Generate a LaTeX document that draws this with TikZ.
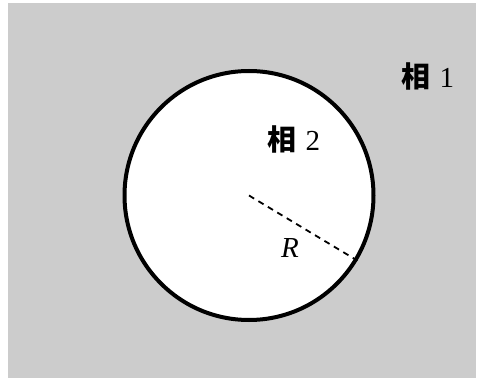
\documentclass[tikz,border=0pt]{standalone}
\usepackage{fontspec}
\setmainfont{Liberation Serif}
\newfontfamily\cjk{Noto Sans CJK SC}
\tikzset{
  phase/.style={font=\fontsize{29}{32}\selectfont, inner sep=0pt},
  bubble/.style={draw=black, line width=4pt, fill=white, circle, inner sep=0pt, minimum size=249pt}
}
\begin{document}
\begin{tikzpicture}[x=1pt,y=-1pt]
\useasboundingbox (0,0) rectangle (480,385);
\fill[gray!40] (8,3) rectangle (476,378);
\node[bubble] (c) at (249,195.5) {};
\coordinate (o) at (249,195.5);
\draw[line width=1.8pt, dash pattern=on 6pt off 5pt] (o) -- (c.-31);
\node[phase] (p1) at (428,76) {{\cjk\bfseries 相}\hspace{0.3em}1};
\node[phase] (p2) at (294,139) {{\cjk\bfseries 相}\hspace{0.3em}2};
\node[phase] (r) at (290,248) {\itshape R};
\end{tikzpicture}
\end{document}
